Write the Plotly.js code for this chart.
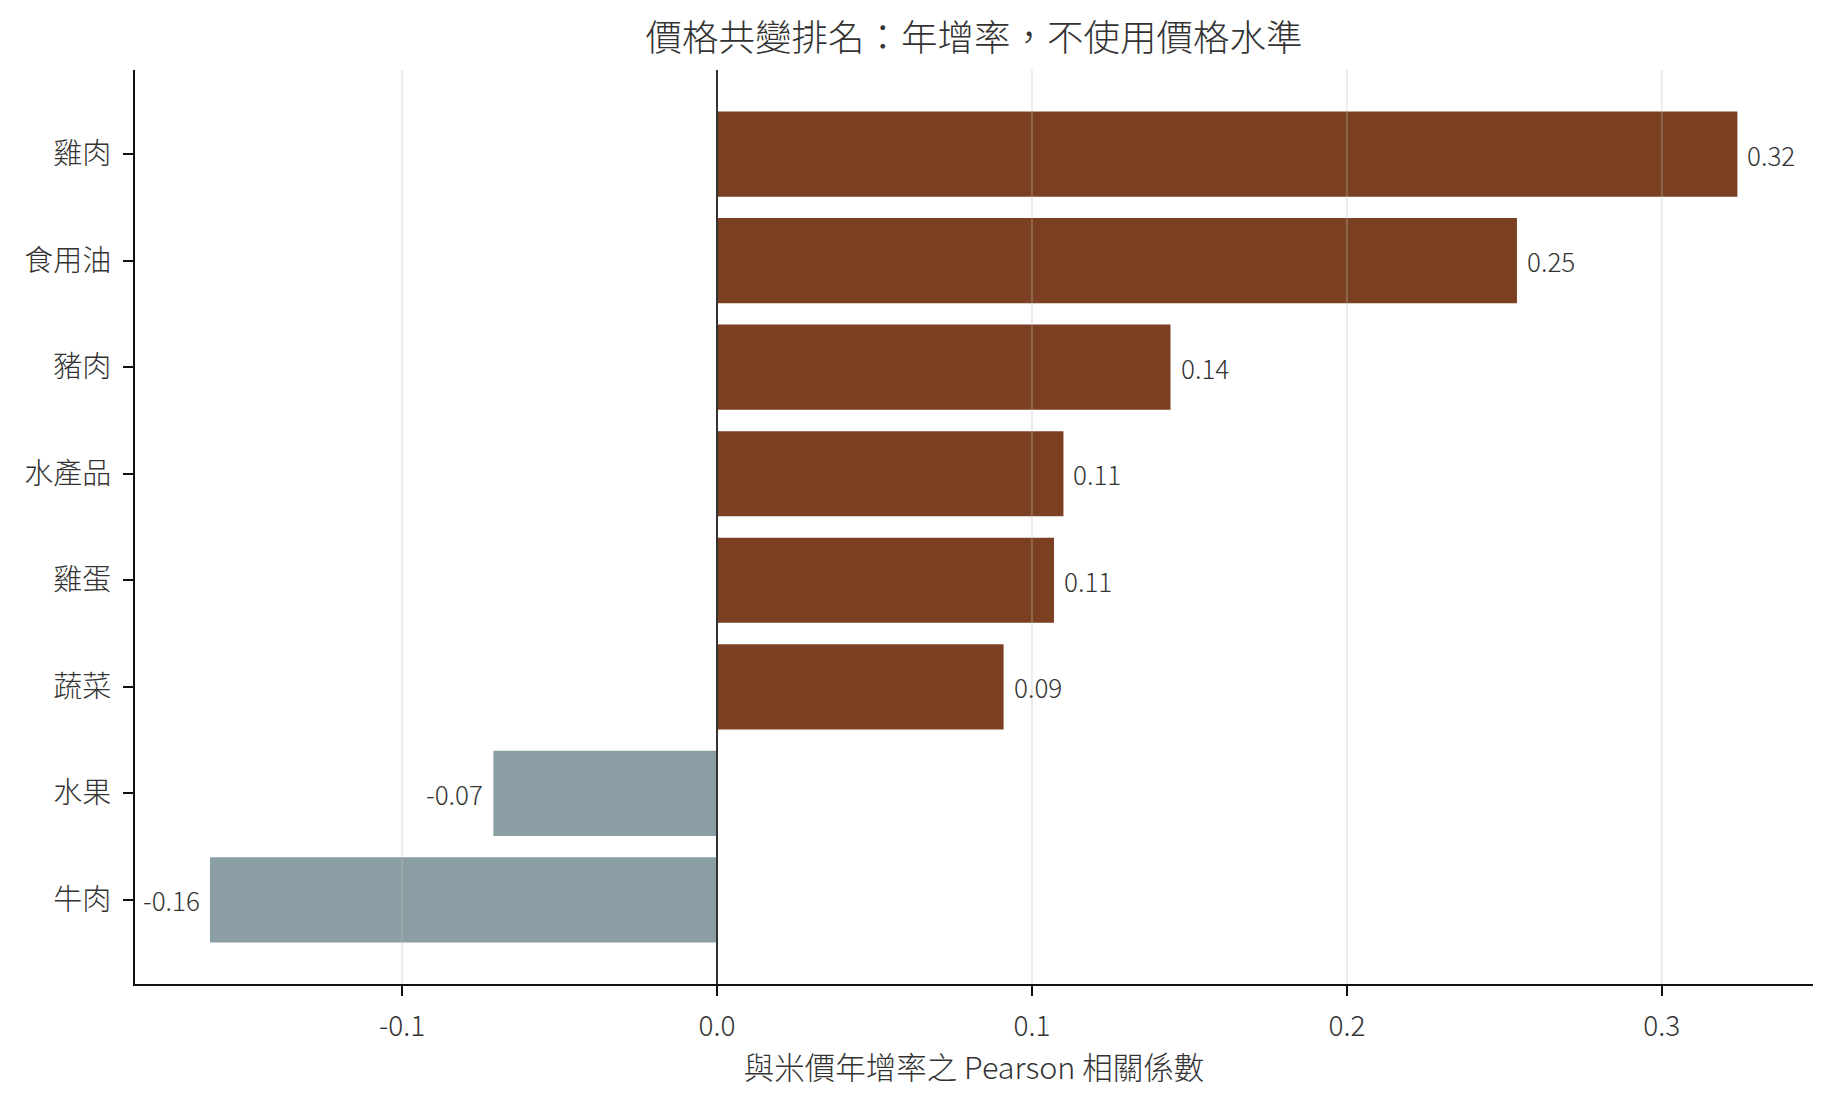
<!DOCTYPE html>
<html>
<head>
<meta charset="utf-8">
<script src="https://cdn.plot.ly/plotly-3.0.1.min.js"></script>
<style>
  html, body { margin: 0; padding: 0; background: #fff; }
</style>
</head>
<body>
<div id="chart" style="width:1825px;height:1102px;"></div>
<script>
// data, top to bottom
var items = ['雞肉', '食用油', '豬肉', '水產品', '雞蛋', '蔬菜', '水果', '牛肉'];
var corr = [0.324, 0.254, 0.144, 0.110, 0.107, 0.091, -0.071, -0.161];
var xTicks = [-0.1, 0.0, 0.1, 0.2, 0.3];
var xTickText = ['-0.1', '0.0', '0.1', '0.2', '0.3'];

var FONT = '"Noto Sans CJK TC", "Noto Sans", sans-serif';
var brown = '#7b4021';
var slate = '#8a9ea4';

var colors = corr.map(function (v) { return v >= 0 ? brown : slate; });

var trace = {
  type: 'bar',
  orientation: 'h',
  x: corr,
  y: items,
  width: 0.8,
  marker: { color: colors, line: { width: 0 } },
  hoverinfo: 'x+y'
};

// value labels next to each bar end
var labels = [];
for (var i = 0; i < items.length; i++) {
  var pos = corr[i] >= 0;
  labels.push({
    x: corr[i],
    y: items[i],
    xref: 'x', yref: 'y',
    text: corr[i].toFixed(2),
    showarrow: false,
    xanchor: pos ? 'left' : 'right',
    xshift: pos ? 8 : -8,
    font: { family: FONT, size: 26, color: '#333', weight: 300 }
  });
}

// grid lines drawn over the bars, like the original
var shapes = [];
xTicks.forEach(function (t) {
  if (t === 0) return;
  shapes.push({
    type: 'line', layer: 'above',
    xref: 'x', yref: 'paper',
    x0: t, x1: t, y0: 0, y1: 1,
    line: { color: 'rgba(190,190,190,0.3)', width: 2 }
  });
});
shapes.push({
  type: 'line', layer: 'above',
  xref: 'x', yref: 'paper',
  x0: 0, x1: 0, y0: 0, y1: 1,
  line: { color: '#333', width: 2 }
});

var layout = {
  width: 1825,
  height: 1102,
  margin: { l: 135, r: 12, t: 70, b: 118 },
  paper_bgcolor: '#fff',
  plot_bgcolor: '#fff',
  font: { family: FONT, color: '#333', weight: 300 },
  showlegend: false,
  bargap: 0.2,
  title: {
    text: '價格共變排名：年增率，不使用價格水準',
    font: { family: FONT, size: 36.5, color: '#333', weight: 300 },
    x: 0.5, xref: 'paper', xanchor: 'center',
    y: 1 - 38 / 1102, yref: 'container', yanchor: 'middle'
  },
  xaxis: {
    range: [-0.1848, 0.348],
    tickvals: xTicks,
    ticktext: xTickText,
    showgrid: false,
    zeroline: false,
    showline: true,
    linecolor: '#111',
    linewidth: 2,
    ticks: 'outside',
    ticklen: 10,
    tickwidth: 2,
    tickcolor: '#111',
    ticklabelstandoff: 6,
    tickfont: { family: FONT, size: 28, color: '#333', weight: 300 },
    title: {
      text: '與米價年增率之 Pearson 相關係數',
      font: { family: FONT, size: 30.5, color: '#333', weight: 300 },
      standoff: 13
    }
  },
  yaxis: {
    type: 'category',
    categoryorder: 'array',
    categoryarray: items,
    range: [7.79, -0.79],
    showgrid: false,
    zeroline: false,
    showline: true,
    linecolor: '#111',
    linewidth: 2,
    ticks: 'outside',
    ticklen: 10,
    tickwidth: 2,
    tickcolor: '#111',
    ticklabelstandoff: 6,
    tickfont: { family: FONT, size: 29, color: '#333', weight: 300 }
  },
  annotations: labels,
  shapes: shapes
};

Plotly.newPlot('chart', [trace], layout, { displayModeBar: false, staticPlot: true });
</script>
</body>
</html>
